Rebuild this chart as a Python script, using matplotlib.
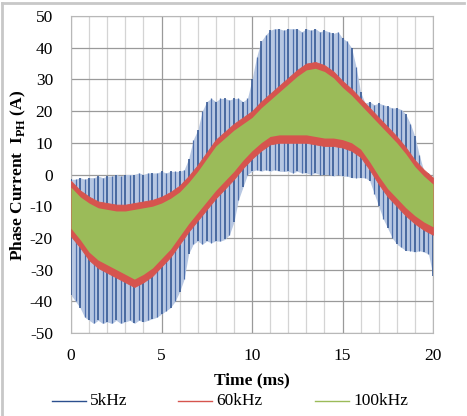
import numpy as np
import matplotlib.pyplot as plt
from matplotlib.lines import Line2D
from matplotlib.ticker import MultipleLocator

plt.rcParams['font.family'] = ['Liberation Serif', 'DejaVu Serif']
plt.rcParams['mathtext.fontset'] = 'custom'
plt.rcParams['mathtext.rm'] = 'Liberation Serif'
plt.rcParams['mathtext.bf'] = 'Liberation Serif:bold'
plt.rcParams['axes.unicode_minus'] = False

# 60kHz / 100kHz envelopes, sampled every 0.5 ms
t_env = np.arange(41) * 0.5
red_hi = [-2, -5, -7, -8.5, -9, -9.5, -9.5, -9, -8.5, -8, -7, -5.5, -3.5, -0.5, 3, 7, 11,
          13.5, 16, 18, 20, 23, 25.5, 28, 30.5, 33, 35, 35.5, 34.5, 32.5, 29.5, 27, 24,
          21, 18, 15, 12, 8.5, 4.5, 1.5, -1]
red_lo = [-19.5, -23, -27, -29.5, -31, -32.5, -34, -35.5, -34, -32, -29, -26, -22, -18,
          -14.5, -11, -7.5, -4.5, -1.5, 2, 5, 7.5, 9.5, 10, 10, 10, 10, 9.5, 9, 9, 8.5,
          7.5, 5.5, 1.5, -3, -7, -10, -13, -15.5, -17.5, -19]
green_hi = [-4, -7, -9, -10.5, -11, -11.5, -11.5, -11, -10.5, -10, -9, -7.5, -5.5, -2.5,
            1, 5, 9, 11.5, 14, 16, 18, 21, 23.5, 26, 28.5, 31, 33, 33.5, 32.5, 30.5, 27.5,
            25, 22, 19, 16, 13, 10, 6.5, 2.5, -0.5, -3]
green_lo = [-17, -20.5, -24.5, -27, -28.5, -30, -31.5, -33, -31.5, -29.5, -26.5, -23.5,
            -19.5, -15.5, -12, -8.5, -5, -2, 1, 4.5, 7.5, 10, 12, 12.5, 12.5, 12.5, 12.5,
            12, 11.5, 11.5, 11, 10, 8, 4, -0.5, -4.5, -7.5, -10.5, -13, -15, -16.5]

# 5kHz ripple limits, one value every 0.25 ms
t_5k = np.arange(81) * 0.25
blue_hi = [-1.5, -1.5, -1, -1.5, -1, -1, -0.5, -1, -0.5, -0.5, 0, -0.5, 0, 0, 0, 0.5,
           0, 0.5, 0.5, 0.5, 1, 0.5, 1, 1, 1, 1.5, 5, 11, 14, 20, 23, 24, 23, 24, 24,
           23.5, 24, 24, 23, 24, 30, 37, 42, 44, 45.5, 46, 46, 45.5, 46, 46, 46, 45, 46,
           45.5, 46, 45, 45.5, 45, 44.5, 45, 43, 42, 40, 34, 26, 22.5, 23, 22, 22.5, 22,
           21.5, 21, 21, 20.5, 19, 16, 12, 6, 1, 0.5, -1]
blue_lo = [-38, -40, -42, -45, -46, -47, -46, -47, -46.5, -47, -46, -47, -46.5, -46, -47,
           -46, -46.5, -46, -45.5, -45, -44, -43, -42, -40, -37, -33, -25, -22, -21, -22,
           -21, -21.5, -21, -21, -20.5, -19, -15, -8, -4, 0, 1, 1.5, 1, 1.5, 1, 1.5, 1,
           1, 1, 0.5, 1, 0.5, 0.5, 0, 0.5, 0, 0, 0, -0.5, 0, -0.5, -0.5, -1, -1, -1, -1,
           -2, -6, -10, -14, -17, -20, -22, -23, -24, -24, -24.5, -24, -24.5, -25, -32]

labels = ['5kHz', '60kHz', '100kHz']
colors = ['#2b4f8e', '#d6544e', '#9bbb59']

W, H = 467, 416
fig = plt.figure(figsize=(W / 100, H / 100), dpi=100)
ax = fig.add_axes([71 / W, 1 - 333 / H, 362 / W, 317 / H])

# 5kHz: light band plus dark switching spikes
ax.fill_between(t_5k, blue_lo, blue_hi, color='#b7c7e2', lw=0, zorder=2)
ax.vlines(t_5k[::2], np.array(blue_lo)[::2], np.array(blue_hi)[::2],
          color=colors[0], lw=1.1, zorder=3)
ax.vlines(t_5k[1::2], np.array(blue_lo)[1::2], np.array(blue_hi)[1::2],
          color='#4d6fab', lw=0.9, zorder=3)

ax.fill_between(t_env, red_lo, red_hi, color=colors[1], lw=0.6, ec=colors[1], zorder=4)
ax.fill_between(t_env, green_lo, green_hi, color=colors[2], lw=0, zorder=5)

ax.set_xlim(0, 20)
ax.set_ylim(-50, 50)
ax.xaxis.set_major_locator(MultipleLocator(5))
ax.xaxis.set_minor_locator(MultipleLocator(1))
ax.yaxis.set_major_locator(MultipleLocator(10))
ax.grid(which='major', color='#9a9a9a', lw=0.9, zorder=1)
ax.grid(which='minor', axis='x', color='#d4d4d4', lw=0.9, zorder=1)
ax.set_axisbelow(True)
ax.tick_params(which='both', length=0, labelsize=12.5)
ax.tick_params(axis='y', pad=13)
ax.tick_params(axis='x', pad=11)
for s in ax.spines.values():
    s.set_color('#b8b8b8')

fig.text(252 / W, 1 - 380 / H, 'Time (ms)', fontsize=12.5, fontweight='bold',
         ha='center', va='center')
fig.text(18 / W, 1 - 175 / H, 'Phase Current  I$_{\\mathbf{PH}}$ (A)', fontsize=12.5,
         fontweight='bold', rotation=90, ha='center', va='center')

# legend entries placed like the original
leg_y = 1 - 401 / H
for lab, c, x0 in zip(labels, colors, [52, 178, 315]):
    fig.add_artist(Line2D([x0 / W, (x0 + 34) / W], [leg_y, leg_y], color=c, lw=1,
                          transform=fig.transFigure))
    fig.text((x0 + 38) / W, leg_y, lab, fontsize=12.5, ha='left', va='center')

# chart frame (top and left edges visible)
fig.add_artist(Line2D([0.004, 0.994], [0.993, 0.993], color='#c8c8c8', lw=2,
                      transform=fig.transFigure))
fig.add_artist(Line2D([0.005, 0.005], [0, 0.993], color='#c8c8c8', lw=2,
                      transform=fig.transFigure))

fig.savefig('out.png', dpi=100)
